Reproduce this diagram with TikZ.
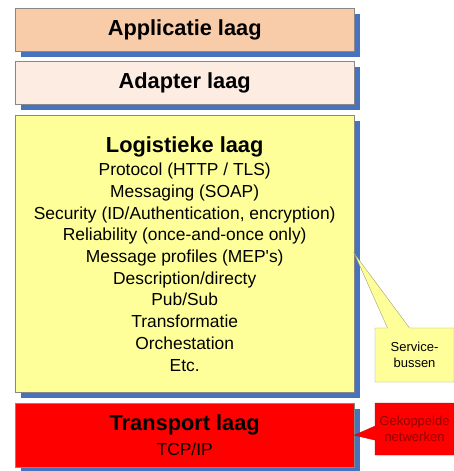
\documentclass[tikz,border=0pt]{standalone}
\usepackage{fontspec}
\setmainfont{Liberation Sans}
\usetikzlibrary{positioning, shadows, shapes.callouts}
\definecolor{laagblauw}{RGB}{70,114,190}
\definecolor{applicatiekleur}{RGB}{249,204,169}
\definecolor{adapterkleur}{RGB}{252,236,226}
\definecolor{logistiekkleur}{RGB}{255,255,153}
\definecolor{randgrijs}{RGB}{135,135,135}
\definecolor{calloutrand}{RGB}{160,160,110}
\definecolor{donkerrood}{RGB}{150,0,0}
\newcommand{\laagtitel}[1]{{\fontsize{21.8}{25}\selectfont\bfseries #1}}
\tikzset{
  laag/.style = {draw=randgrijs, anchor=north west, minimum width=339pt,
    align=center, inner sep=0pt, font=\fontsize{17.4}{21.7}\selectfont,
    drop shadow={shadow xshift=6pt, shadow yshift=-6pt, fill=laagblauw, opacity=1}},
  opmerking/.style = {rectangle callout, align=center, inner sep=0pt,
    minimum width=79pt, font=\fontsize{13}{15.5}\selectfont}
}

\begin{document}
\begin{tikzpicture}[x=1pt, y=-1pt]
\useasboundingbox (0,0) rectangle (454,471);
% de lagen
\node [laag, fill=applicatiekleur, minimum height=43pt] (applicatie) at (15,8)
  {\laagtitel{Applicatie laag}};
\node [laag, fill=adapterkleur, minimum height=43pt] (adapter) at (15,61)
  {\laagtitel{Adapter laag}};
\node [laag, fill=logistiekkleur, minimum height=277pt] (logistiek) at (15,115)
  {\laagtitel{Logistieke laag}\\[2pt]
   Protocol (HTTP / TLS)\\
   Messaging (SOAP)\\
   Security (ID/Authentication, encryption)\\
   Reliability (once-and-once only)\\
   Message profiles (MEP\textquotesingle s)\\
   Description/directy\\
   Pub/Sub\\
   Transformatie\\
   Orchestation\\
   Etc.};
\node [laag, fill=red, minimum height=64pt] (transport) at (15,403)
  {\laagtitel{Transport laag}\\[3pt] TCP/IP};
% de opmerkingen
\node [opmerking, draw=calloutrand, fill=logistiekkleur, minimum height=54pt,
  callout absolute pointer={(logistiek.east)}, callout pointer width=22pt]
  (servicebussen) at (414.5,355) {Service-\\bussen};
\node [opmerking, draw=red!80!black, fill=red, text=donkerrood, minimum height=52pt,
  callout absolute pointer={(transport.east)}, callout pointer width=14pt]
  (gekoppeld) at (414.5,429) {Gekoppelde\\netwerken};
\end{tikzpicture}
\end{document}
